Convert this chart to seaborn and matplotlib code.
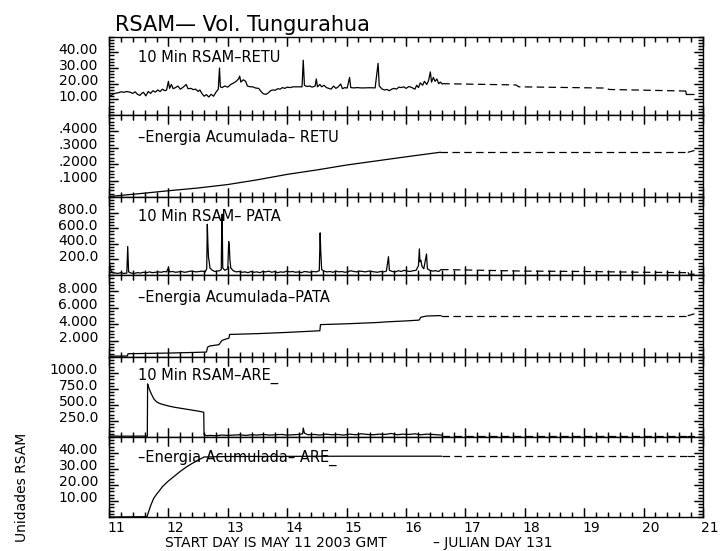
import numpy as np
import pandas as pd
import matplotlib
matplotlib.use("Agg")
import matplotlib.pyplot as plt
import matplotlib.transforms as mtransforms
from matplotlib.ticker import FixedLocator, MultipleLocator, FuncFormatter
import seaborn as sns

# ---------------- data ----------------
# 10 Min RSAM - RETU (solid record)
retu_day = [11.00, 11.04, 11.08, 11.12, 11.16, 11.20, 11.25, 11.30, 11.35, 11.40, 11.44, 11.48, 11.52, 11.55,
            11.58, 11.62, 11.66, 11.70, 11.74, 11.78, 11.82, 11.86, 11.90, 11.94, 11.97, 12.00, 12.02, 12.05,
            12.08, 12.12, 12.16, 12.20, 12.25, 12.30, 12.33, 12.38, 12.42, 12.46, 12.50, 12.53, 12.56, 12.60,
            12.64, 12.68, 12.72, 12.76, 12.80, 12.84, 12.86, 12.875, 12.90, 12.95, 13.00, 13.05, 13.10, 13.14,
            13.18, 13.20, 13.22, 13.26, 13.30, 13.33, 13.38, 13.42, 13.47, 13.52, 13.56, 13.60, 13.64, 13.68,
            13.72, 13.76, 13.80, 13.84, 13.88, 13.92, 13.96, 14.00, 14.05, 14.10, 14.15, 14.20, 14.25, 14.27,
            14.29, 14.33, 14.38, 14.42, 14.47, 14.49, 14.51, 14.55, 14.58, 14.62, 14.66, 14.70, 14.74, 14.78,
            14.82, 14.86, 14.90, 14.93, 14.97, 15.01, 15.05, 15.07, 15.12, 15.18, 15.24, 15.30, 15.36, 15.42,
            15.48, 15.53, 15.55, 15.60, 15.64, 15.68, 15.72, 15.76, 15.80, 15.84, 15.88, 15.92, 15.96, 16.00,
            16.05, 16.10, 16.15, 16.18, 16.21, 16.24, 16.28, 16.31, 16.35, 16.38, 16.41, 16.43, 16.46, 16.49,
            16.52, 16.55, 16.58, 16.61]
retu_val = [12.4, 12.6, 13.5, 14.0, 14.2, 14.8, 14.5, 15.0, 14.6, 13.8, 14.8, 13.2, 12.5, 13.8,
            14.5, 12.2, 15.0, 13.8, 15.5, 14.6, 16.0, 15.0, 16.5, 15.5, 16.0, 21.5, 17.0, 19.5,
            16.8, 17.5, 18.5, 16.5, 17.8, 19.5, 16.8, 17.0, 16.2, 16.5, 15.0, 16.0, 14.0, 12.0,
            13.0, 11.5, 13.2, 12.0, 14.5, 16.5, 30.0, 18.0, 17.5, 18.5, 17.8, 19.5, 20.5, 21.5,
            23.0, 24.8, 21.0, 22.5, 21.5, 18.5, 18.0, 18.0, 17.2, 17.0, 15.0, 13.5, 13.2, 14.0,
            15.5, 16.0, 15.8, 16.8, 16.5, 17.5, 17.0, 17.8, 17.5, 18.0, 18.0, 18.0, 18.0, 35.0,
            19.0, 18.2, 18.5, 17.8, 18.5, 23.0, 18.0, 19.5, 18.0, 19.0, 17.5, 17.0, 16.5, 18.5,
            17.0, 18.0, 19.8, 16.8, 17.5, 17.2, 24.0, 17.5, 17.3, 17.5, 17.3, 17.3, 17.4, 17.4,
            17.3, 33.0, 18.5, 16.5, 16.0, 16.3, 15.5, 16.5, 17.0, 16.5, 17.8, 17.5, 18.0, 17.0,
            18.2, 17.5, 16.5, 19.0, 17.5, 20.5, 19.0, 21.5, 19.5, 22.0, 27.5, 21.0, 24.0, 21.5,
            23.0, 20.0, 21.0, 19.8]
retu_gap_day = [16.61, 17.85, 17.90, 19.36, 19.42, 20.71]
retu_gap_val = [20.0, 19.2, 18.0, 17.2, 16.3, 15.3]
retu_tail_day = [20.71, 20.72, 20.85]
retu_tail_val = [15.3, 13.1, 13.1]

# Energia acumulada - RETU
eretu_day = [11.0, 11.5, 12.0, 12.5, 13.0, 13.5, 14.0, 14.5, 15.0, 15.5, 16.0, 16.58]
eretu_val = [0.003, 0.02, 0.038, 0.055, 0.076, 0.105, 0.138, 0.165, 0.195, 0.22, 0.245, 0.273]
eretu_gap_day = [16.58, 20.75]
eretu_gap_val = [0.273, 0.273]
eretu_tail_day = [20.75, 20.85]
eretu_tail_val = [0.273, 0.283]

# 10 Min RSAM - PATA
pata_day = [11.00, 11.01, 11.03, 11.06, 11.10, 11.15, 11.20, 11.25, 11.30, 11.315, 11.33, 11.37, 11.42, 11.48,
            11.53, 11.58, 11.63, 11.68, 11.73, 11.78, 11.83, 11.88, 11.93, 11.97, 12.00, 12.02, 12.07, 12.12,
            12.17, 12.22, 12.27, 12.32, 12.37, 12.42, 12.47, 12.52, 12.57, 12.62, 12.645, 12.655, 12.665,
            12.675, 12.685, 12.70, 12.74, 12.78, 12.82, 12.86, 12.89, 12.895, 12.905, 12.915, 12.95, 13.00,
            13.015, 13.025, 13.035, 13.05, 13.09, 13.14, 13.19, 13.24, 13.29, 13.34, 13.39, 13.44, 13.49,
            13.54, 13.59, 13.64, 13.69, 13.74, 13.79, 13.84, 13.89, 13.94, 13.99, 14.04, 14.09, 14.14, 14.19,
            14.24, 14.29, 14.34, 14.39, 14.44, 14.49, 14.54, 14.555, 14.565, 14.58, 14.62, 14.67, 14.72,
            14.77, 14.82, 14.87, 14.92, 14.97, 15.02, 15.07, 15.12, 15.17, 15.22, 15.27, 15.32, 15.37, 15.42,
            15.47, 15.52, 15.57, 15.62, 15.67, 15.705, 15.72, 15.77, 15.82, 15.87, 15.92, 15.97, 16.02, 16.07,
            16.12, 16.17, 16.21, 16.225, 16.235, 16.25, 16.27, 16.30, 16.345, 16.36, 16.40, 16.45, 16.50,
            16.55, 16.59]
pata_val = [240, 150, 60, 30, 25, 20, 30, 20, 25, 365, 40, 25, 20, 30,
            25, 35, 28, 40, 30, 35, 40, 35, 45, 40, 90, 40, 45, 35,
            40, 45, 35, 40, 50, 45, 40, 45, 50, 40, 80, 650, 400,
            230, 180, 90, 60, 45, 50, 55, 70, 420, 780, 90, 60, 80,
            430, 380, 200, 90, 55, 40, 45, 35, 40, 30, 45, 35, 40,
            30, 45, 40, 50, 35, 45, 30, 40, 35, 50, 40, 45, 35, 40,
            30, 45, 40, 35, 45, 40, 55, 540, 300, 70, 50, 40, 45,
            35, 50, 40, 45, 35, 40, 55, 45, 40, 50, 45, 40, 50, 45,
            40, 35, 45, 40, 50, 235, 60, 45, 40, 55, 45, 60, 50, 45,
            55, 60, 120, 335, 170, 190, 110, 80, 270, 80, 60, 50, 55,
            45, 70]
pata_gap_day = [16.59, 17.3, 18.0, 19.0, 20.0, 20.75]
pata_gap_val = [70, 60, 50, 45, 35, 30]
pata_tail_day = [20.75, 20.76, 20.85]
pata_tail_val = [30, 10, 10]

# Energia acumulada - PATA
epata_day = [11.00, 11.31, 11.32, 11.5, 12.0, 12.4, 12.64, 12.66, 12.70, 12.85, 12.90, 12.95, 13.02, 13.03,
             13.5, 14.0, 14.55, 14.56, 15.0, 15.5, 15.71, 16.0, 16.22, 16.25, 16.35, 16.59]
epata_val = [0.10, 0.12, 0.40, 0.42, 0.48, 0.55, 0.60, 1.20, 1.35, 1.50, 2.00, 2.15, 2.30, 2.75,
             2.85, 3.00, 3.20, 3.95, 4.05, 4.20, 4.30, 4.40, 4.50, 4.85, 5.00, 5.05]
epata_gap_day = [16.59, 20.75]
epata_gap_val = [5.05, 5.05]
epata_tail_day = [20.75, 20.85]
epata_tail_val = [5.05, 5.25]

# 10 Min RSAM - ARE_
are_day = [11.00, 11.1, 11.2, 11.3, 11.4, 11.5, 11.6, 11.645, 11.65, 11.67, 11.70, 11.73, 11.76, 11.80,
           11.85, 11.90, 12.0, 12.1, 12.2, 12.3, 12.4, 12.5, 12.58, 12.595, 12.60, 12.65, 12.7, 12.8, 12.9,
           13.0, 13.1, 13.2, 13.3, 13.4, 13.5, 13.6, 13.7, 13.8, 13.9, 14.0, 14.1, 14.2, 14.26, 14.27,
           14.29, 14.35, 14.45, 14.55, 14.65, 14.75, 14.85, 14.95, 15.05, 15.15, 15.25, 15.35, 15.45,
           15.55, 15.65, 15.75, 15.85, 15.95, 16.05, 16.15, 16.25, 16.35, 16.45, 16.6]
are_val = [12, 15, 12, 14, 12, 15, 13, 14, 830, 770, 700, 640, 590, 550,
           525, 510, 485, 465, 450, 435, 420, 405, 390, 385, 35, 20, 25, 20, 30,
           25, 30, 35, 25, 35, 30, 40, 30, 35, 40, 30, 35, 40, 50, 140,
           60, 35, 40, 30, 45, 35, 40, 30, 45, 35, 50, 40, 35,
           45, 40, 55, 35, 45, 40, 50, 35, 45, 40, 30]
are_gap_day = [16.6, 20.75]
are_gap_val = [20, 20]
are_tail_day = [20.75, 20.85]
are_tail_val = [15, 15]

# Energia acumulada - ARE_
eare_day = [11.0, 11.64, 11.70, 11.75, 11.80, 11.85, 11.90, 12.0, 12.1, 12.2, 12.3, 12.4, 12.5, 12.6,
            13.0, 14.0, 15.0, 16.6]
eare_val = [0.0, 0.2, 7.0, 11.5, 14.2, 16.5, 19.0, 22.5, 25.5, 28.5, 31.2, 33.5, 35.5, 37.5,
            37.8, 37.9, 38.0, 38.0]
eare_gap_day = [16.6, 20.75]
eare_gap_val = [38.0, 38.0]
eare_tail_day = [20.75, 20.85]
eare_tail_val = [38.0, 38.0]

panel_titles = ["10 Min RSAM\u2013RETU", "\u2013Energia Acumulada\u2013 RETU",
                "10 Min RSAM\u2013 PATA", "\u2013Energia Acumulada\u2013PATA",
                "10 Min RSAM\u2013ARE_", "\u2013Energia Acumulada\u2013 ARE_"]
x_ticks = [11, 12, 13, 14, 15, 16, 17, 18, 19, 20, 21]

# ---------------- style ----------------
sns.set_theme(style="ticks")
plt.rcParams.update({
    'font.family': ['DejaVu Sans'],
    'axes.linewidth': 1.0,
    'axes.edgecolor': 'black',
    'text.color': 'black',
    'xtick.labelsize': 10,
    'ytick.labelsize': 10,
})

W, H = 720, 551
fig = plt.figure(figsize=(7.2, 5.51), dpi=100)
left_px, right_px = 109, 703
bounds = [36.7, 115, 197, 275, 357, 437, 517]

panels = [
    dict(solid=(retu_day, retu_val), gap=(retu_gap_day, retu_gap_val), tail=(retu_tail_day, retu_tail_val),
         ylim=(0, 50), yt=[10, 20, 30, 40], ymin=2, fmt=lambda v: f"{v:.2f}", ty=0.74),
    dict(solid=(eretu_day, eretu_val), gap=(eretu_gap_day, eretu_gap_val), tail=(eretu_tail_day, eretu_tail_val),
         ylim=(0, 0.5), yt=[0.1, 0.2, 0.3, 0.4], ymin=0.02, fmt=lambda v: f"{v:.4f}".lstrip("0"), ty=0.73),
    dict(solid=(pata_day, pata_val), gap=(pata_gap_day, pata_gap_val), tail=(pata_tail_day, pata_tail_val),
         ylim=(0, 1000), yt=[200, 400, 600, 800], ymin=40, fmt=lambda v: f"{v:.1f}", ty=0.756),
    dict(solid=(epata_day, epata_val), gap=(epata_gap_day, epata_gap_val), tail=(epata_tail_day, epata_tail_val),
         ylim=(0, 10), yt=[2, 4, 6, 8], ymin=0.4, fmt=lambda v: f"{v:.3f}", ty=0.726),
    dict(solid=(are_day, are_val), gap=(are_gap_day, are_gap_val), tail=(are_tail_day, are_tail_val),
         ylim=(0, 1250), yt=[250, 500, 750, 1000], ymin=50, fmt=lambda v: f"{v:.1f}", ty=0.76),
    dict(solid=(eare_day, eare_val), gap=(eare_gap_day, eare_gap_val), tail=(eare_tail_day, eare_tail_val),
         ylim=(0, 50), yt=[10, 20, 30, 40], ymin=2, fmt=lambda v: f"{v:.2f}", ty=0.744),
]

up_shift = mtransforms.ScaledTranslation(0, 4 / 100, fig.dpi_scale_trans)
right_shift = mtransforms.ScaledTranslation(7 / 100, 0, fig.dpi_scale_trans)

MAJ_PX, MIN_PX = 9.0, 4.5
lw = 0.9
axes = []
for i, p in enumerate(panels):
    top, bot = bounds[i], bounds[i + 1]
    h_px = bot - top
    w_px = right_px - left_px
    ax = fig.add_axes([left_px / W, 1 - bot / H, w_px / W, h_px / H])
    axes.append(ax)
    d1 = pd.DataFrame({"day": p["solid"][0], "val": p["solid"][1]})
    d2 = pd.DataFrame({"day": p["gap"][0], "val": p["gap"][1]})
    d3 = pd.DataFrame({"day": p["tail"][0], "val": p["tail"][1]})
    sns.lineplot(data=d1, x="day", y="val", ax=ax, color="black", lw=lw, estimator=None, sort=False)
    sns.lineplot(data=d2, x="day", y="val", ax=ax, color="black", lw=lw, estimator=None, sort=False,
                 linestyle=(0, (6, 3.5)))
    sns.lineplot(data=d3, x="day", y="val", ax=ax, color="black", lw=lw, estimator=None, sort=False)
    ax.set_xlim(11, 21)
    ax.set_ylim(*p["ylim"])
    ax.set_xlabel("")
    ax.set_ylabel("")
    ax.xaxis.set_major_locator(FixedLocator(x_ticks))
    ax.xaxis.set_minor_locator(MultipleLocator(0.2))
    ax.yaxis.set_major_locator(FixedLocator(p["yt"]))
    ax.yaxis.set_minor_locator(MultipleLocator(p["ymin"]))
    ax.yaxis.set_major_formatter(FuncFormatter(lambda v, pos, f=p["fmt"]: f(v)))
    show_x = (i == 5)
    ax.tick_params(axis='x', which='major', direction='in', top=True, bottom=True, length=6.5,
                   width=1, pad=3, colors='black', labelbottom=show_x)
    ax.tick_params(axis='x', which='minor', direction='in', top=True, bottom=True, length=3.3,
                   width=1, colors='black', labelbottom=False)
    ax.tick_params(axis='y', which='major', direction='in', left=True, right=True, length=6.5,
                   width=1, pad=8, colors='black')
    ax.tick_params(axis='y', which='minor', direction='in', left=True, right=True, length=3.3,
                   width=1, colors='black')
    for sp in ax.spines.values():
        sp.set_visible(True)
        sp.set_linewidth(1.0)
        sp.set_color("black")

    # tick marks also drawn explicitly at the axis' own tick locations (axis decoration)
    xmaj = [t for t in ax.xaxis.get_majorticklocs() if 11 <= t <= 21]
    xmin = [t for t in ax.xaxis.get_minorticklocs() if 11 <= t <= 21]
    xt = ax.get_xaxis_transform()
    for locs, L in ((xmaj, MAJ_PX), (xmin, MIN_PX)):
        f = L / h_px
        ax.vlines(locs, 0, f, transform=xt, colors="black", lw=0.8)
        ax.vlines(locs, 1 - f, 1, transform=xt, colors="black", lw=0.8)
    y0, y1 = p["ylim"]
    ymaj = [t for t in ax.yaxis.get_majorticklocs() if y0 <= t <= y1]
    ymn = [t for t in ax.yaxis.get_minorticklocs() if y0 <= t <= y1]
    yt_tr = ax.get_yaxis_transform()
    for locs, L in ((ymaj, MAJ_PX), (ymn, MIN_PX)):
        f = L / w_px
        ax.hlines(locs, 0, f, transform=yt_tr, colors="black", lw=0.8)
        ax.hlines(locs, 1 - f, 1, transform=yt_tr, colors="black", lw=0.8)

    ax.text(0.048, p["ty"], panel_titles[i], transform=ax.transAxes, fontsize=10.5,
            ha="left", va="center", color="black")

fig.canvas.draw()
for i, ax in enumerate(axes):
    for lab in ax.get_yticklabels():
        lab.set_transform(lab.get_transform() + up_shift)
    if i == 5:
        for lab in ax.get_xticklabels():
            lab.set_transform(lab.get_transform() + right_shift)

fig.text(115 / W, 1 - 31 / H, "RSAM\u2014 Vol. Tungurahua", fontsize=15, ha="left", va="baseline",
         color="black")
fig.text(22 / W, 1 - 487 / H, "Unidades RSAM", rotation=90, fontsize=10, ha="center", va="center")
fig.text(165 / W, 1 - 543 / H, "START DAY IS MAY 11 2003 GMT", fontsize=10, ha="left", va="center")
fig.text(433 / W, 1 - 543 / H, "\u2013 JULIAN DAY 131", fontsize=10, ha="left", va="center")

fig.savefig("out.png", dpi=100, facecolor="white")
